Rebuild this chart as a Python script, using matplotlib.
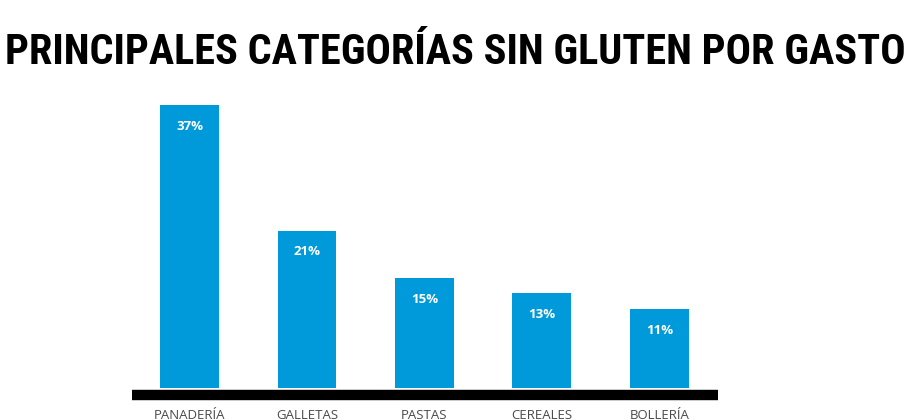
import matplotlib
matplotlib.use("Agg")
import matplotlib.pyplot as plt
from matplotlib import font_manager

# data
categories = ["PANADERÍA", "GALLETAS", "PASTAS", "CEREALES", "BOLLERÍA"]
shares = [37, 21, 15, 13, 11]
title = "PRINCIPALES CATEGORÍAS SIN GLUTEN POR GASTO"

W, H = 921, 420
fig = plt.figure(figsize=(W / 100, H / 100), dpi=100)
fig.patch.set_facecolor("white")

# pick a condensed bold face for the title if one is installed
bold_names = {f.name for f in font_manager.fontManager.ttflist if f.weight in (700, "bold")}
title_font = "Liberation Sans"
for cand in ["Roboto Condensed", "Archivo Narrow", "Liberation Sans Narrow", "Arimo"]:
    if cand in bold_names:
        title_font = cand
        break

# axes placed in pixel terms: left 132, right 718, bottom 388, top 105
left, right, bottom, top = 132, 718, 388, 105
ax = fig.add_axes([left / W, 1 - bottom / H, (right - left) / W, (bottom - top) / H])

x = list(range(len(categories)))
ax.bar(x, shares, width=0.5, color="#009ADA", zorder=2)
ax.set_xlim(-0.49, 4.5)
ax.set_ylim(0.94, 37)

for xi, v in zip(x, shares):
    ax.text(xi, v - 1.9, f"{v}%", ha="center", va="top", color="white",
            fontsize=9.5, fontweight="bold", family="Open Sans")

for s in ["top", "right", "left", "bottom"]:
    ax.spines[s].set_visible(False)
ax.set_yticks([])
ax.set_xticks(x)
ax.set_xticklabels(categories, family="Open Sans", fontsize=9.5, color="#4a4a4a")
ax.tick_params(axis="x", length=0, pad=15)

# thick black baseline under the bars
ax.axhline(0.94 - 0.9, color="black", linewidth=7.5, clip_on=False, zorder=3,
           solid_capstyle="butt")

t = fig.text(455 / W, 1 - 64 / H, title, ha="center", va="baseline",
             fontsize=30, fontweight="bold", family=title_font, color="black")
fig.canvas.draw()
bb = t.get_window_extent()
t.set_fontsize(30 * 900 / bb.width)

fig.savefig("out.png", dpi=100)
